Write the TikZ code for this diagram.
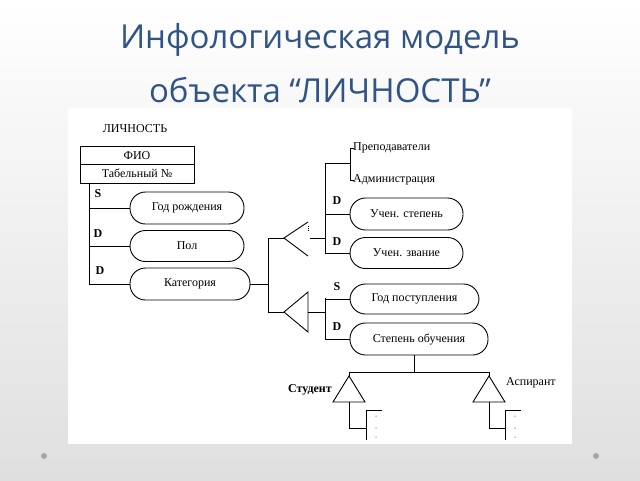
\documentclass[tikz,border=0pt]{standalone}
\usepackage{fontspec}
\setmainfont{Liberation Serif}
\newfontfamily\titlefont{Open Sans}
\definecolor{ttl}{RGB}{48,84,134}
\begin{document}
\begin{tikzpicture}[x=1pt,y=-1pt,
  ln/.style={line width=0.9pt,black},
  ov/.style={draw,line width=0.9pt,rounded corners=15.5pt,inner sep=0pt,font=\fontsize{12}{13}\selectfont},
  lb/.style={font=\fontsize{12}{13}\selectfont\bfseries,inner sep=0pt},
  tx/.style={font=\fontsize{12}{13}\selectfont,inner sep=0pt}]
\shade[top color=white,bottom color=gray!25] (0,0) rectangle (640,480);
\useasboundingbox (0,0) rectangle (640,480);
\node[font=\titlefont\fontsize{33}{36}\selectfont,text=ttl] (t1) at (320,40) {Инфологическая модель};
\node[font=\titlefont\fontsize{33}{36}\selectfont,text=ttl] (t2) at (320,90) {объекта “ЛИЧНОСТЬ”};
\fill[white] (68,108) rectangle (572,444);
\fill[gray!70] (44,456) circle (3); \fill[gray!70] (596,456) circle (3);
% left entity
\node[tx] (lich) at (135,129) {ЛИЧНОСТЬ};
\draw[ln] (80,146) rectangle (194,183);
\draw[ln] (80,164) -- (194,164);
\node[tx] (fio) at (137,156) {ФИО};
\node[tx] (tab) at (137,173) {Табельный №};
\draw[ln] (89,183) -- (89,284);
\node[ov,minimum width=114pt,minimum height=32pt] (god) at (187,208) {Год рождения};
\node[ov,minimum width=114pt,minimum height=31pt] (pol) at (187,246) {Пол};
\node[ov,minimum width=120pt,minimum height=32pt] (kat) at (190,284) {Категория};
\draw[ln] (89,208) -- (god.west);
\draw[ln] (89,246) -- (pol.west);
\draw[ln] (89,284) -- (kat.west);
\node[lb] at (98,194) {S}; \node[lb] at (98,234) {D}; \node[lb] at (100,271) {D};
% branch
\coordinate (j1) at (268,284);
\draw[ln] (kat.east) -- (j1);
\draw[ln] (268,238) -- (268,312);
\coordinate (tip1) at (284,238); \coordinate (tip2) at (284,312);
\draw[ln] (268,238) -- (tip1); \draw[ln] (268,312) -- (tip2);
\draw[ln] (308,222) -- (tip1) -- (308,256);
\draw[ln,densely dotted] (308,226) -- (308,230);
\draw[ln] (tip2) -- (308,292) -- (308,332) -- cycle;
% upper subtype
\draw[ln] (310,238) -- (325,238);
\draw[ln] (325,163) -- (325,253);
\draw[ln] (325,163) -- (350,163);
\draw[ln] (350,148) -- (350,180);
\draw[ln] (350,148) -- (354,148); \draw[ln] (350,180) -- (354,180);
\node[tx,anchor=west] (prep) at (353,148) {Преподаватели};
\node[tx,anchor=west] (adm) at (353,180) {Администрация};
\node[ov,minimum width=113pt,minimum height=32pt] (st) at (406.5,214) {Учен. степень};
\node[ov,minimum width=113pt,minimum height=31pt] (zv) at (406.5,253) {Учен. звание};
\draw[ln] (325,214) -- (st.west);
\draw[ln] (325,253) -- (zv.west);
\node[lb] at (337,201) {D}; \node[lb] at (337,242) {D};
% lower subtype
\draw[ln] (308,312) -- (325,312);
\draw[ln] (325,298) -- (325,339);
\node[ov,minimum width=129pt,minimum height=30pt] (gp) at (414.5,299) {Год поступления};
\node[ov,minimum width=138pt,minimum height=32pt] (so) at (419,339) {Степень обучения};
\draw[ln] (325,299) -- (gp.west);
\draw[ln] (325,339) -- (so.west);
\node[lb] at (337,287) {S}; \node[lb] at (337,327) {D};
% student / aspirant
\coordinate (j2) at (414,372);
\draw[ln] (so.south -| j2) -- (j2);
\draw[ln] (349,372) -- (489,372);
\draw[ln] (349,372) -- (349,376);
\draw[ln] (489,372) -- (489,376);
\draw[ln] (349,376) -- (333,402) -- (365,402) -- cycle;
\draw[ln] (489,376) -- (473,402) -- (505,402) -- cycle;
\node[tx,font=\fontsize{12}{13}\selectfont\bfseries,anchor=east] (stud) at (332,390) {Студент};
\node[tx,anchor=west] (asp) at (506,383) {Аспирант};
\draw[ln] (349,402) -- (349,428) -- (366,428);
\draw[ln] (382,410) -- (366,410) -- (366,440);
\draw[ln] (489,402) -- (489,428) -- (505,428);
\draw[ln] (521,410) -- (505,410) -- (505,440);
\foreach \y in {416,428,437} {\fill (376,\y) circle (0.5); \fill (515,\y) circle (0.5);}
\end{tikzpicture}
\end{document}
